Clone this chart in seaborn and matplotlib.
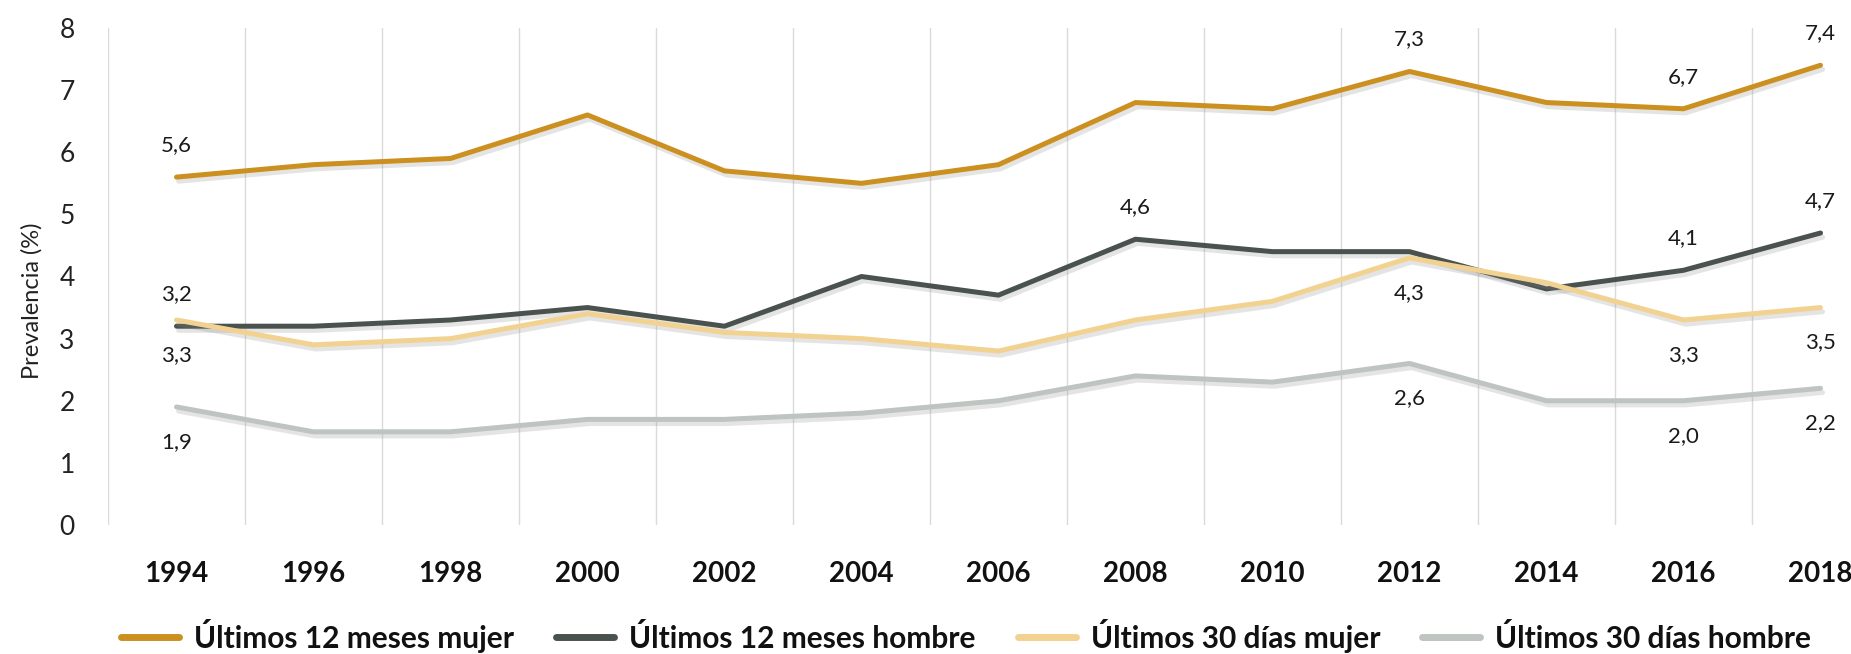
import matplotlib
matplotlib.use("Agg")
import matplotlib.pyplot as plt
import matplotlib.patheffects as pe
from matplotlib.ticker import MultipleLocator, FixedLocator
from matplotlib.lines import Line2D
import seaborn as sns
import pandas as pd

years = [1994, 1996, 1998, 2000, 2002, 2004, 2006, 2008, 2010, 2012, 2014, 2016, 2018]
mujer_12m = [5.6, 5.8, 5.9, 6.6, 5.7, 5.5, 5.8, 6.8, 6.7, 7.3, 6.8, 6.7, 7.4]
hombre_12m = [3.2, 3.2, 3.3, 3.5, 3.2, 4.0, 3.7, 4.6, 4.4, 4.4, 3.8, 4.1, 4.7]
mujer_30d = [3.3, 2.9, 3.0, 3.4, 3.1, 3.0, 2.8, 3.3, 3.6, 4.3, 3.9, 3.3, 3.5]
hombre_30d = [1.9, 1.5, 1.5, 1.7, 1.7, 1.8, 2.0, 2.4, 2.3, 2.6, 2.0, 2.0, 2.2]
series_names = ["Últimos 12 meses mujer", "Últimos 12 meses hombre",
                "Últimos 30 días mujer", "Últimos 30 días hombre"]
colors = ["#CB901F", "#4A524D", "#F2D291", "#BEC4BF"]

# which points get a value label: (series index, year index, above?)
labels = [(0, 0, True), (1, 0, True), (2, 0, False), (3, 0, False),
          (1, 7, True), (0, 9, True), (2, 9, False), (3, 9, False),
          (0, 11, True), (1, 11, True), (2, 11, False), (3, 11, False),
          (0, 12, True), (1, 12, True), (2, 12, False), (3, 12, False)]

all_vals = [mujer_12m, hombre_12m, mujer_30d, hombre_30d]
rows = []
for name, vals in zip(series_names, all_vals):
    for y, v in zip(years, vals):
        rows.append({"Año": y, "Prevalencia": v, "Serie": name})
df = pd.DataFrame(rows)

sns.set_theme(style="white")
plt.rcParams["font.family"] = ["Lato", "DejaVu Sans"]

W, H = 1851, 654
fig = plt.figure(figsize=(W / 100, H / 100), dpi=100)
ax = fig.add_axes([108 / W, (654 - 525) / H, 1781 / W, 497 / H])

sns.lineplot(data=df, x="Año", y="Prevalencia", hue="Serie", hue_order=series_names,
             palette=colors, linewidth=3.6, ax=ax, legend=False, sort=False)
for line in ax.get_lines():
    line.set_solid_capstyle("round")
    line.set_path_effects([pe.SimpleLineShadow(offset=(1.5, -3), shadow_color="#888888", alpha=0.22),
                           pe.Normal()])

ax.set_xlim(1993, 2019)
ax.set_ylim(0, 8)
ax.set_xticks(years)
ax.set_xticklabels([str(y) for y in years], fontsize=20, fontweight="bold", color="#111111")
ax.xaxis.set_minor_locator(FixedLocator(list(range(1993, 2020, 2))))
ax.yaxis.set_major_locator(MultipleLocator(1))
ax.tick_params(axis="x", which="both", length=0, pad=26)
ax.tick_params(axis="y", length=0, pad=24, labelsize=19, labelcolor="#222222")
ax.grid(False)
ax.grid(which="minor", axis="x", color="#DADADA", linewidth=1.0)
for s in ax.spines.values():
    s.set_visible(False)

ax.set_xlabel("")
ax.set_ylabel("Prevalencia (%)", fontsize=17, color="#222222")
ax.yaxis.set_label_coords(-0.037, 0.452)

for si, yi, above in labels:
    v = all_vals[si][yi]
    ax.annotate(f"{v:.1f}".replace(".", ","), xy=(years[yi], v),
                xytext=(0, 32 if above else -35), textcoords="offset pixels",
                ha="center", va="center", fontsize=16, color="#1a1a1a")

handles = [Line2D([0], [0], color=c, lw=5, solid_capstyle="round") for c in colors]
leg = fig.legend(handles, series_names, loc="center", bbox_to_anchor=(0.522, 0.028),
                 ncol=4, frameon=False, handlelength=1.95, handletextpad=0.5,
                 columnspacing=1.4, prop={"size": 21.5, "weight": "bold"})
for t in leg.get_texts():
    t.set_color("#111111")

fig.savefig("out.png", dpi=100)
